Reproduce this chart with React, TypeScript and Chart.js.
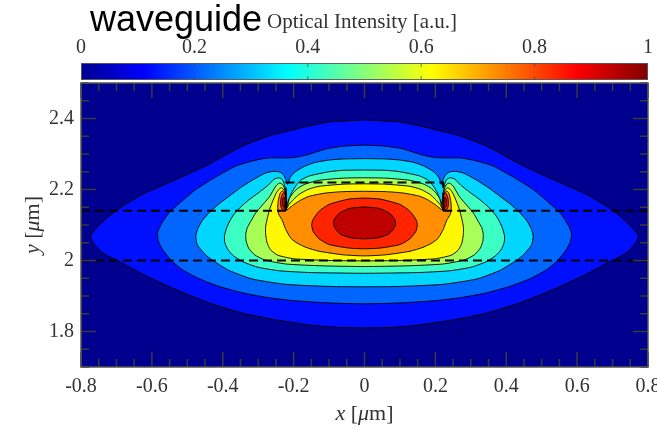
import { useEffect, useRef } from 'react';
import { Chart, registerables } from 'chart.js';

Chart.register(...registerables);

type Pt = [number, number];

// ---- axes -----------------------------------------------------------------
const xRange: Pt = [-0.8, 0.8];
const yRange: Pt = [1.7, 2.5];
const xTickValues = [-0.8, -0.6, -0.4, -0.2, 0, 0.2, 0.4, 0.6, 0.8];
const yTickValues = [1.8, 2.0, 2.2, 2.4];
const colorbarTickValues = [0, 0.2, 0.4, 0.6, 0.8, 1];
const minorStep = 0.05;

// ---- intensity bands (0-0.1, 0.1-0.2, ... 0.9-1) --------------------------
const contourLevels = [0.1, 0.2, 0.3, 0.4, 0.5, 0.6, 0.7, 0.8, 0.9];
const bandColors = [
  '#00008F', '#0010FF', '#0066FF', '#00D6FF', '#3CFFC6',
  '#A8FF58', '#FFF800', '#FF8E00', '#FF2400', '#BE0000',
];

// jet colormap stops for the colour bar
const jetStops: Pt[] = [[0, 0], [0.111, 1], [0.365, 2], [0.619, 3], [0.873, 4], [1, 5]];
const jetColors = ['#00008F', '#0000FF', '#00FFFF', '#FFFF00', '#FF0000', '#800000'];

// ---- waveguide cross-section (µm) ------------------------------------------
const slabBottom = 2.0;
const slabTop = 2.14;
const ridgeTop = 2.22;
const ridgeHalfWidth = 0.222;

// ---- iso-intensity contours: right half (x >= 0), top centre -> bottom centre
const iso10: Pt[] = [
  [0, 2.396], [0.1, 2.39], [0.157, 2.379], [0.21, 2.366], [0.269, 2.351], [0.345, 2.322],
  [0.39, 2.298], [0.439, 2.271], [0.532, 2.228], [0.627, 2.186], [0.69, 2.148], [0.721, 2.125],
  [0.75, 2.098], [0.766, 2.08], [0.773, 2.068], [0.767, 2.053], [0.749, 2.03], [0.725, 2.013],
  [0.693, 1.998], [0.627, 1.962], [0.532, 1.918], [0.439, 1.881], [0.345, 1.852], [0.251, 1.833],
  [0.157, 1.819], [0.08, 1.812], [0, 1.81],
];
const iso20: Pt[] = [
  [0, 2.325], [0.06, 2.322], [0.11, 2.314], [0.16, 2.298], [0.2, 2.29], [0.235, 2.289],
  [0.27, 2.289], [0.31, 2.282], [0.363, 2.266], [0.42, 2.235], [0.476, 2.2], [0.52, 2.163],
  [0.552, 2.134], [0.572, 2.105], [0.584, 2.078], [0.581, 2.053], [0.569, 2.03], [0.545, 2.0],
  [0.514, 1.974], [0.465, 1.948], [0.41, 1.927], [0.34, 1.908], [0.269, 1.895], [0.2, 1.887],
  [0.128, 1.882], [0.06, 1.879], [0, 1.878],
];
const iso30: Pt[] = [
  [0, 2.287], [0.06, 2.286], [0.1, 2.283], [0.14, 2.276], [0.17, 2.265], [0.195, 2.25],
  [0.21, 2.234], [0.217, 2.214], [0.222, 2.228], [0.23, 2.243], [0.242, 2.25], [0.258, 2.251],
  [0.28, 2.246], [0.317, 2.226], [0.35, 2.205], [0.382, 2.181], [0.41, 2.16], [0.435, 2.138],
  [0.458, 2.112], [0.471, 2.088], [0.476, 2.068], [0.472, 2.045], [0.462, 2.031], [0.445, 2.013],
  [0.425, 1.998], [0.382, 1.972], [0.317, 1.948], [0.222, 1.933], [0.1, 1.927], [0, 1.926],
];
const iso40: Pt[] = [
  [0, 2.255], [0.06, 2.254], [0.1, 2.25], [0.156, 2.238], [0.18, 2.226], [0.194, 2.21],
  [0.206, 2.19], [0.213, 2.172], [0.218, 2.16], [0.222, 2.19], [0.226, 2.214], [0.232, 2.228],
  [0.242, 2.233], [0.255, 2.229], [0.272, 2.212], [0.3, 2.19], [0.326, 2.171], [0.35, 2.15],
  [0.372, 2.125], [0.387, 2.097], [0.395, 2.07], [0.394, 2.05], [0.385, 2.03], [0.368, 2.012],
  [0.34, 1.995], [0.3, 1.981], [0.24, 1.971], [0.15, 1.966], [0, 1.964],
];
const iso50: Pt[] = [
  [0, 2.233], [0.06, 2.232], [0.128, 2.226], [0.165, 2.216], [0.186, 2.205], [0.2, 2.192],
  [0.212, 2.175], [0.218, 2.152], [0.222, 2.18], [0.226, 2.204], [0.232, 2.215], [0.24, 2.218],
  [0.25, 2.21], [0.268, 2.18], [0.29, 2.154], [0.307, 2.134], [0.321, 2.11], [0.331, 2.092],
  [0.335, 2.074], [0.334, 2.055], [0.327, 2.035], [0.31, 2.016], [0.28, 2.001], [0.22, 1.99],
  [0.12, 1.985], [0, 1.983],
];
const iso60: Pt[] = [
  [0, 2.216], [0.06, 2.215], [0.128, 2.209], [0.16, 2.2], [0.185, 2.186], [0.2, 2.172],
  [0.213, 2.158], [0.219, 2.147], [0.222, 2.175], [0.227, 2.197], [0.234, 2.205], [0.242, 2.2],
  [0.25, 2.188], [0.26, 2.165], [0.268, 2.143], [0.274, 2.12], [0.279, 2.095], [0.279, 2.075],
  [0.275, 2.05], [0.265, 2.03], [0.245, 2.015], [0.2, 2.005], [0.1, 2.0], [0, 1.999],
];
const iso70: Pt[] = [
  [0, 2.195], [0.06, 2.194], [0.11, 2.19], [0.156, 2.181], [0.18, 2.17], [0.2, 2.157],
  [0.214, 2.146], [0.22, 2.142], [0.222, 2.168], [0.226, 2.189], [0.232, 2.196], [0.238, 2.19],
  [0.243, 2.17], [0.245, 2.15], [0.242, 2.13], [0.233, 2.115], [0.227, 2.1], [0.222, 2.087],
  [0.208, 2.063], [0.19, 2.049], [0.165, 2.037], [0.128, 2.026], [0.06, 2.016], [0, 2.013],
];
const iso80: Pt[] = [
  [0, 2.176], [0.044, 2.173], [0.1, 2.158], [0.128, 2.139], [0.145, 2.116], [0.149, 2.101],
  [0.145, 2.082], [0.128, 2.061], [0.1, 2.045], [0.044, 2.035], [0, 2.033],
];
const iso90: Pt[] = [
  [0, 2.151], [0.04, 2.147], [0.07, 2.134], [0.084, 2.118], [0.088, 2.106], [0.084, 2.092],
  [0.068, 2.074], [0.038, 2.064], [0, 2.061],
];
// hot spots just outside the ridge side wall (closed loops, right side)
const spot80: Pt[] = [
  [0.223, 2.186], [0.229, 2.19], [0.235, 2.178], [0.237, 2.16], [0.234, 2.146], [0.227, 2.143], [0.223, 2.155],
];
const spot90: Pt[] = [
  [0.224, 2.176], [0.229, 2.178], [0.232, 2.166], [0.231, 2.153], [0.226, 2.15], [0.224, 2.16],
];

// ---- helpers -----------------------------------------------------------------
const mirrorHalf = (half: Pt[]): Pt[] => [
  ...half,
  ...half.slice(0, -1).reverse().map(([x, y]) => [-x, y] as Pt),
];
const closeLoop = (pts: Pt[]): Pt[] => [...pts, pts[0]];
const mirrorIsland = (pts: Pt[]): Pt[] => pts.map(([x, y]) => [-x, y] as Pt);
const toXY = (pts: Pt[]) => pts.map(([x, y]) => ({ x, y }));

const contourShapes: { band: number; pts: Pt[] }[] = [
  { band: 1, pts: mirrorHalf(iso10) },
  { band: 2, pts: mirrorHalf(iso20) },
  { band: 3, pts: mirrorHalf(iso30) },
  { band: 4, pts: mirrorHalf(iso40) },
  { band: 5, pts: mirrorHalf(iso50) },
  { band: 6, pts: mirrorHalf(iso60) },
  { band: 7, pts: mirrorHalf(iso70) },
  { band: 8, pts: mirrorHalf(iso80) },
  { band: 8, pts: closeLoop(spot80) },
  { band: 8, pts: closeLoop(mirrorIsland(spot80)) },
  { band: 9, pts: mirrorHalf(iso90) },
  { band: 9, pts: closeLoop(spot90) },
  { band: 9, pts: closeLoop(mirrorIsland(spot90)) },
];

const outlineSegments: Pt[][] = [
  [[xRange[0], slabBottom], [xRange[1], slabBottom]],
  [[xRange[0], slabTop], [-ridgeHalfWidth, slabTop]],
  [[ridgeHalfWidth, slabTop], [xRange[1], slabTop]],
  [[-ridgeHalfWidth, slabTop], [-ridgeHalfWidth, ridgeTop], [ridgeHalfWidth, ridgeTop], [ridgeHalfWidth, slabTop]],
];

const fmt = (v: number) => String(Math.round(v * 10) / 10);
const SERIF = '"Liberation Serif", "Times New Roman", serif';
const SANS = '"Liberation Sans", Arial, sans-serif';
const INK = '#333333';

function drawMixed(
  ctx: CanvasRenderingContext2D,
  parts: { t: string; italic?: boolean }[],
  cx: number,
  baseline: number,
  size: number,
) {
  const fonts = parts.map((p) => `${p.italic ? 'italic ' : ''}${size}px ${SERIF}`);
  const widths = parts.map((p, i) => {
    ctx.font = fonts[i];
    return ctx.measureText(p.t).width;
  });
  let x = cx - widths.reduce((a, b) => a + b, 0) / 2;
  ctx.textAlign = 'left';
  ctx.textBaseline = 'alphabetic';
  parts.forEach((p, i) => {
    ctx.font = fonts[i];
    ctx.fillText(p.t, x, baseline);
    x += widths[i];
  });
}

const decorPlugin = {
  id: 'decor',
  beforeDatasetsDraw(chart: any) {
    const { ctx, chartArea: a } = chart;
    ctx.save();
    ctx.fillStyle = bandColors[0];
    ctx.fillRect(a.left, a.top, a.right - a.left, a.bottom - a.top);
    ctx.restore();
  },
  afterDatasetsDraw(chart: any) {
    const { ctx, chartArea: a, scales } = chart;
    const sx = scales.x;
    const sy = scales.y;
    ctx.save();
    ctx.strokeStyle = '#3a3a3a';
    ctx.lineWidth = 1.5;
    ctx.beginPath();
    const nx = Math.round((xRange[1] - xRange[0]) / minorStep);
    for (let k = 0; k <= nx; k++) {
      const v = xRange[0] + k * minorStep;
      const major = xTickValues.some((t) => Math.abs(t - v) < 1e-6);
      const len = major ? 15 : 8;
      const px = sx.getPixelForValue(v);
      ctx.moveTo(px, a.bottom);
      ctx.lineTo(px, a.bottom - len);
      ctx.moveTo(px, a.top);
      ctx.lineTo(px, a.top + len);
    }
    const ny = Math.round((yRange[1] - yRange[0]) / minorStep);
    for (let k = 0; k <= ny; k++) {
      const v = yRange[0] + k * minorStep;
      const major = yTickValues.some((t) => Math.abs(t - v) < 1e-6);
      const len = major ? 15 : 8;
      const py = sy.getPixelForValue(v);
      ctx.moveTo(a.left, py);
      ctx.lineTo(a.left + len, py);
      ctx.moveTo(a.right, py);
      ctx.lineTo(a.right - len, py);
    }
    ctx.stroke();
    ctx.strokeStyle = '#555555';
    ctx.lineWidth = 1.5;
    ctx.strokeRect(a.left, a.top, a.right - a.left, a.bottom - a.top);
    ctx.restore();
  },
  afterDraw(chart: any) {
    const { ctx, chartArea: a, scales } = chart;
    const cb = scales.cb;
    const x0 = cb.getPixelForValue(0);
    const x1 = cb.getPixelForValue(1);
    const top = 63;
    const bottom = 80;
    ctx.save();
    const grad = ctx.createLinearGradient(x0, 0, x1, 0);
    jetStops.forEach(([p, i]) => grad.addColorStop(p, jetColors[i]));
    ctx.fillStyle = grad;
    ctx.fillRect(x0, top, x1 - x0, bottom - top);
    ctx.strokeStyle = 'rgba(90,90,90,0.9)';
    ctx.lineWidth = 1;
    ctx.strokeRect(x0 + 0.5, top + 0.5, x1 - x0 - 1, bottom - top - 1);
    ctx.beginPath();
    colorbarTickValues.forEach((v) => {
      if (v <= 0 || v >= 1) return;
      const px = cb.getPixelForValue(v);
      ctx.moveTo(px, top);
      ctx.lineTo(px, top + 4);
      ctx.moveTo(px, bottom);
      ctx.lineTo(px, bottom - 4);
    });
    ctx.strokeStyle = 'rgba(70,70,70,0.7)';
    ctx.stroke();

    // headings
    ctx.fillStyle = '#000000';
    ctx.font = `36px ${SANS}`;
    ctx.textAlign = 'left';
    ctx.textBaseline = 'alphabetic';
    ctx.fillText('waveguide', 90, 31);
    ctx.fillStyle = INK;
    ctx.font = `21px ${SERIF}`;
    ctx.fillText('Optical Intensity [a.u.]', 267, 28);

    // axis titles
    const cx = (a.left + a.right) / 2;
    drawMixed(ctx, [{ t: 'x', italic: true }, { t: ' [' }, { t: 'μ', italic: true }, { t: 'm]' }], cx, 420, 22);
    ctx.translate(39, (a.top + a.bottom) / 2);
    ctx.rotate(-Math.PI / 2);
    drawMixed(ctx, [{ t: 'y', italic: true }, { t: ' [' }, { t: 'μ', italic: true }, { t: 'm]' }], 0, 0, 22);
    ctx.restore();
  },
};

export default function App() {
  const canvasRef = useRef<HTMLCanvasElement | null>(null);

  useEffect(() => {
    const canvas = canvasRef.current;
    if (!canvas) return;

    const contourDatasets = contourShapes.map((s) => ({
      type: 'line' as const,
      data: toXY(s.pts),
      xAxisID: 'x',
      yAxisID: 'y',
      fill: 'shape' as const,
      backgroundColor: bandColors[s.band],
      borderColor: 'rgba(0,0,0,0.9)',
      borderWidth: 1,
      pointRadius: 0,
      tension: 0.2,
      order: 50 - s.band,
    }));
    const outlineDatasets = outlineSegments.map((seg) => ({
      type: 'line' as const,
      data: toXY(seg),
      xAxisID: 'x',
      yAxisID: 'y',
      fill: false,
      borderColor: '#000000',
      borderWidth: 2,
      borderDash: [9, 5],
      pointRadius: 0,
      tension: 0,
      order: 0,
    }));

    const tickFont = { family: SERIF, size: 20 };

    const chart = new Chart(canvas, {
      type: 'line',
      data: { datasets: [...outlineDatasets, ...contourDatasets] as any },
      options: {
        responsive: false,
        animation: false,
        devicePixelRatio: 1,
        layout: { padding: { left: 0, right: 9, top: 0, bottom: 0 } },
        plugins: { legend: { display: false }, tooltip: { enabled: false } },
        scales: {
          x: {
            type: 'linear',
            position: 'bottom',
            min: xRange[0],
            max: xRange[1],
            grid: { display: false, drawTicks: false },
            border: { display: false },
            afterBuildTicks: (s: any) => {
              s.ticks = xTickValues.map((value) => ({ value }));
            },
            afterFit: (s: any) => {
              s.height = 60;
              s.paddingLeft = 0;
              s.paddingRight = 0;
            },
            ticks: {
              color: INK,
              font: tickFont,
              padding: 8,
              maxRotation: 0,
              autoSkip: false,
              callback: (v: any) => fmt(Number(v)),
            },
          },
          y: {
            type: 'linear',
            position: 'left',
            min: yRange[0],
            max: yRange[1],
            grid: { display: false, drawTicks: false },
            border: { display: false },
            afterBuildTicks: (s: any) => {
              s.ticks = yTickValues.map((value) => ({ value }));
            },
            afterFit: (s: any) => {
              s.width = 81;
              s.paddingTop = 0;
              s.paddingBottom = 0;
            },
            ticks: {
              color: INK,
              font: tickFont,
              padding: 7,
              autoSkip: false,
              callback: (v: any) => fmt(Number(v)),
            },
          },
          cb: {
            type: 'linear',
            axis: 'x',
            position: 'top',
            min: 0,
            max: 1,
            grid: { display: false, drawTicks: false },
            border: { display: false },
            afterBuildTicks: (s: any) => {
              s.ticks = colorbarTickValues.map((value) => ({ value }));
            },
            afterFit: (s: any) => {
              s.height = 83;
              s.paddingLeft = 0;
              s.paddingRight = 0;
            },
            ticks: {
              color: INK,
              font: tickFont,
              padding: 23,
              maxRotation: 0,
              autoSkip: false,
              callback: (v: any) => fmt(Number(v)),
            },
          },
        } as any,
      },
      plugins: [decorPlugin],
    });

    return () => chart.destroy();
  }, []);

  return (
    <div
      style={{
        position: 'fixed',
        left: 0,
        top: 0,
        width: 657,
        height: 427,
        overflow: 'hidden',
        background: '#ffffff',
      }}
    >
      <canvas ref={canvasRef} width={657} height={427} style={{ display: 'block' }} />
    </div>
  );
}
